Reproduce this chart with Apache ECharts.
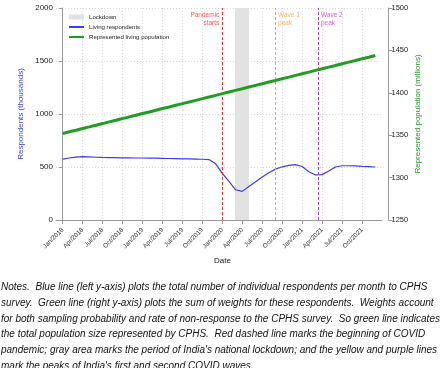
<!DOCTYPE html>
<html>
<head>
<meta charset="utf-8">
<script src="https://cdn.jsdelivr.net/npm/echarts@6/dist/echarts.min.js"></script>
<style>
html,body{margin:0;padding:0;background:#fff;}
#chart{width:440px;height:368px;}
</style>
</head>
<body>
<div id="chart"></div>
<script>
// month index: 0 = Jan 2018
const months = [0,1,2,3,4,5,6,7,8,9,10,11,12,13,14,15,16,17,18,19,20,21,22,23,24,25,26,27,28,29,30,31,32,33,34,35,36,37,38,39,40,41,42,43,44,45,46,47];
const livingRespondents = [575,585,593,597,595,592,590,589,588,587,586,585,585,584,583,582,580,579,577,576,575,573,570,530,440,365,285,270,315,360,405,445,480,502,515,522,505,455,425,428,462,500,512,512,510,506,503,500];
const representedPopulation = [1352.0,1354.0,1355.9,1357.9,1359.8,1361.8,1363.7,1365.7,1367.7,1369.6,1371.6,1373.5,1375.5,1377.4,1379.4,1381.4,1383.3,1385.3,1387.2,1389.2,1391.1,1393.1,1395.1,1397.0,1399.0,1400.9,1402.9,1404.8,1406.8,1408.8,1410.7,1412.7,1414.6,1416.6,1418.5,1420.5,1422.5,1424.4,1426.4,1428.3,1430.3,1432.2,1434.2,1436.2,1438.1,1440.1,1442.0,1444.0];
const tickMonths = [0,3,6,9,12,15,18,21,24,27,30,33,36,39,42,45];
const tickLabels = ['Jan/2018','Apr/2018','Jul/2018','Oct/2018','Jan/2019','Apr/2019','Jul/2019','Oct/2019','Jan/2020','Apr/2020','Jul/2020','Oct/2020','Jan/2021','Apr/2021','Jul/2021','Oct/2021'];
const lockdown = [25.9, 28.0];
const pandemicStart = 24.0;
const wave1Peak = 31.93;
const wave2Peak = 38.44;
const notesLines = [
  'Notes.  Blue line (left y-axis) plots the total number of individual respondents per month to CPHS',
  'survey.  Green line (right y-axis) plots the sum of weights for these respondents.  Weights account',
  'for both sampling probability and rate of non-response to the CPHS survey.  So green line indicates',
  'the total population size represented by CPHS.  Red dashed line marks the beginning of COVID',
  "pandemic; gray area marks the period of India's national lockdown; and the yellow and purple lines",
  "mark the peaks of India's first and second COVID waves."
];

const BLUE = '#3b3bff', GREEN = '#1f9e1f', GRAY = '#e2e2e2';
const RED = '#ff2a2a', ORANGE = '#f7a043', PURPLE = '#b43cc4';
const FONT = 'Liberation Sans';
const axisGray = '#9a9a9a';
const gridLine = {show:true, lineStyle:{color:'#d8d8d8', type:[1,2], width:1}};

const chart = echarts.init(document.getElementById('chart'), null, {renderer:'canvas'});
chart.setOption({
  animation:false,
  backgroundColor:'#fff',
  textStyle:{fontFamily:FONT},
  grid:{left:56, right:58, top:8, bottom:148},
  legend:{
    orient:'vertical', left:63, top:9, itemWidth:15, itemHeight:5, itemGap:4,
    textStyle:{fontSize:6.1, lineHeight:6, color:'#222', fontFamily:FONT},
    data:[
      {name:'Lockdown', icon:'rect', itemStyle:{color:GRAY}},
      {name:'Living respondents', itemStyle:{opacity:0}},
      {name:'Represented living population', itemStyle:{opacity:0}}
    ]
  },
  xAxis:{
    type:'value', min:-1, max:48, offset:6,
    name:'Date', nameLocation:'middle', nameGap:31,
    nameTextStyle:{fontSize:8, color:'#222', padding:[0,0,0,7]},
    axisLine:{show:true, lineStyle:{color:axisGray}},
    axisTick:{show:true, length:4, customValues:tickMonths, lineStyle:{color:axisGray}},
    axisLabel:{customValues:tickMonths, rotate:45, fontSize:6.4, color:'#333', margin:3,
      formatter:(v)=>tickLabels[tickMonths.indexOf(v)] || ''},
    splitLine:gridLine
  },
  yAxis:[
    {type:'value', min:0, max:2000, interval:500, position:'left',
      name:'Respondents (thousands)', nameLocation:'middle', nameRotate:90, nameGap:31,
      nameTextStyle:{fontSize:8, color:BLUE},
      axisLine:{show:true, lineStyle:{color:axisGray}},
      axisTick:{show:true, length:4, lineStyle:{color:axisGray}},
      axisLabel:{fontSize:8, color:'#222', margin:3, formatter:(v)=>String(v)},
      splitLine:gridLine},
    {type:'value', min:1250, max:1500, interval:50, position:'right', offset:6.5,
      name:'Represented population (millions)', nameLocation:'middle', nameRotate:90, nameGap:25,
      nameMoveOverlap:false,
      nameTextStyle:{fontSize:8, color:GREEN},
      axisLine:{show:true, lineStyle:{color:axisGray}},
      axisTick:{show:true, length:4, lineStyle:{color:axisGray}},
      axisLabel:{fontSize:7.5, color:'#222', margin:3, formatter:(v)=>String(v)},
      splitLine:{show:false}}
  ],
  series:[
    {name:'Lockdown', type:'line', data:[], color:GRAY, symbol:'none', z:1,
      markArea:{silent:true, itemStyle:{color:GRAY}, data:[[{xAxis:lockdown[0], yAxis:0},{xAxis:lockdown[1], yAxis:2000}]]}},
    {name:'Events', type:'line', data:[], symbol:'none', z:3,
      markLine:{silent:true, symbol:['none','none'], label:{show:false},
        data:[
          [{coord:[pandemicStart,0], lineStyle:{color:RED, type:[3,2], width:1}},{coord:[pandemicStart,2000]}],
          [{coord:[wave1Peak,0], lineStyle:{color:ORANGE, type:[3,2], width:1}},{coord:[wave1Peak,2000]}],
          [{coord:[wave2Peak,0], lineStyle:{color:PURPLE, type:[3,2], width:1}},{coord:[wave2Peak,2000]}]
        ]}},
    {name:'Living respondents', type:'line', yAxisIndex:0, symbol:'none', color:BLUE,
      lineStyle:{width:1.2, color:BLUE}, z:4,
      data:months.map((m,i)=>[m, livingRespondents[i]])},
    {name:'Represented living population', type:'line', yAxisIndex:1, symbol:'none', color:GREEN,
      lineStyle:{width:3, color:GREEN}, z:5,
      data:months.map((m,i)=>[m, representedPopulation[i]])},
    {name:'Annotations', type:'scatter', yAxisIndex:0, symbolSize:0, silent:true, z:6,
      data:[
        {value:[pandemicStart,1895], label:{show:true, position:'left', distance:3, align:'right', formatter:'Pandemic\nstarts', color:RED, fontSize:6.5, lineHeight:8.3}},
        {value:[wave1Peak,1895], label:{show:true, position:'right', distance:3, align:'left', formatter:'Wave 1\npeak', color:ORANGE, fontSize:6.5, lineHeight:8.3}},
        {value:[wave2Peak,1895], label:{show:true, position:'right', distance:2.5, align:'left', formatter:'Wave 2\npeak', color:PURPLE, fontSize:6.5, lineHeight:8.3}}
      ]}
  ],
  graphic:[
    {type:'text', left:1, top:279, silent:true,
      style:{text:notesLines.join('\n'), font:'italic 10px "Liberation Sans"', fill:'#111', lineHeight:15.9}}
  ]
});
</script>
</body>
</html>
